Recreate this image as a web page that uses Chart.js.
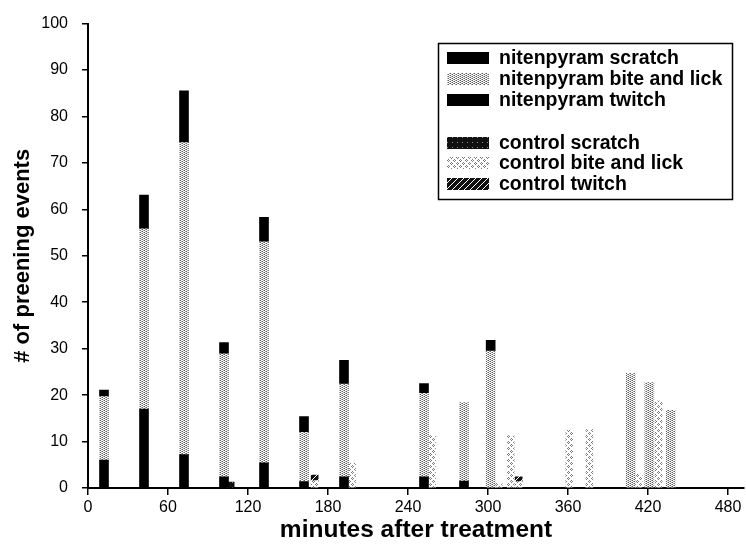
<!DOCTYPE html>
<html>
<head>
<meta charset="utf-8">
<script src="https://cdn.jsdelivr.net/npm/chart.js@4/dist/chart.umd.min.js"></script>
<style>
html,body{margin:0;padding:0;background:#fff;}
canvas{display:block;}
</style>
</head>
<body>
<canvas id="c" width="746" height="550"></canvas>
<script>
// ---- data ----
const xTickValues = [0, 60, 120, 180, 240, 300, 360, 420, 480];
const yTickValues = [0, 10, 20, 30, 40, 50, 60, 70, 80, 90, 100];

const nitenTimes   = [12, 42, 72, 102, 132, 162, 192, 252, 282, 302, 407, 421, 437];
const nitenScratch = [6.0, 17.0, 7.2, 2.4, 5.4, 1.4, 2.4, 2.4, 1.5, 0, 0, 0, 0];
const nitenBite    = [13.7, 38.8, 67.2, 26.5, 47.6, 10.6, 20.0, 18.0, 16.9, 29.5, 24.7, 22.7, 16.7];
const nitenTwitch  = [1.4, 7.3, 11.1, 2.4, 5.3, 3.4, 5.1, 2.1, 0, 2.3, 0, 0, 0];

const controlTimes   = [107, 170, 198, 258, 308, 317, 323, 361, 376, 413, 428];
const controlScratch = [1.3, 0, 0, 0, 0, 0, 0, 0, 0, 0, 0];
const controlBite    = [0, 1.6, 5.3, 11.3, 1.0, 11.3, 1.4, 12.4, 12.6, 3.0, 18.7];
const controlTwitch  = [0, 1.2, 0, 0, 0, 0, 1.0, 0, 0, 0, 0];

const seriesLabels = [
  'nitenpyram scratch', 'nitenpyram bite and lick', 'nitenpyram twitch',
  'control scratch', 'control bite and lick', 'control twitch'
];

// ---- patterns ----
const canvas = document.getElementById('c');
const mainCtx = canvas.getContext('2d');
function makePattern(w, h, draw) {
  const t = document.createElement('canvas');
  t.width = w; t.height = h;
  const g = t.getContext('2d');
  draw(g);
  return mainCtx.createPattern(t, 'repeat');
}
const nitenBitePattern = makePattern(4, 4, g => {
  g.fillStyle = '#ffffff'; g.fillRect(0, 0, 4, 4);
  g.fillStyle = '#5e5e5e';
  [[0,0],[2,1],[0,2],[2,3]].forEach(p => g.fillRect(p[0], p[1], 1, 1));
  g.fillStyle = '#aaaaaa';
  [[1,1],[3,0],[3,2],[1,3]].forEach(p => g.fillRect(p[0], p[1], 1, 1));
});
const controlBitePattern = makePattern(6, 6, g => {
  g.fillStyle = '#ffffff'; g.fillRect(0, 0, 6, 6);
  g.fillStyle = '#7a7a7a';
  [[1,0],[0,1],[2,1],[1,2],[4,3],[3,4],[5,4],[4,5]].forEach(p => g.fillRect(p[0], p[1], 1, 1));
});
const controlTwitchPattern = makePattern(6, 6, g => {
  g.fillStyle = '#111'; g.fillRect(0, 0, 6, 6);
  g.strokeStyle = '#ffffff'; g.lineWidth = 1;
  g.beginPath();
  g.moveTo(-1, 7); g.lineTo(7, -1);
  g.moveTo(-4, 4); g.lineTo(4, -4);
  g.moveTo(2, 10); g.lineTo(10, 2);
  g.stroke();
});
const controlScratchPattern = makePattern(5, 5, g => {
  g.fillStyle = '#111'; g.fillRect(0, 0, 5, 5);
  g.fillStyle = '#888'; g.fillRect(2, 2, 1, 1);
});

function pts(times, vals) {
  const out = [];
  times.forEach((t, i) => { if (vals[i] > 0) out.push({ x: t, y: vals[i] }); });
  return out;
}

const FONT = "'Liberation Sans', Arial, sans-serif";

const datasets = [
  { label: seriesLabels[0], data: pts(nitenTimes, nitenScratch), backgroundColor: '#000', stack: 'n', barThickness: 9 },
  { label: seriesLabels[1], data: pts(nitenTimes, nitenBite), backgroundColor: nitenBitePattern, stack: 'n', barThickness: 9 },
  { label: seriesLabels[2], data: pts(nitenTimes, nitenTwitch), backgroundColor: '#000', stack: 'n', barThickness: 9 },
  { label: seriesLabels[3], data: pts(controlTimes, controlScratch), backgroundColor: controlScratchPattern, stack: 'c', barThickness: 7 },
  { label: seriesLabels[4], data: pts(controlTimes, controlBite), backgroundColor: controlBitePattern, stack: 'c', barThickness: 7 },
  { label: seriesLabels[5], data: pts(controlTimes, controlTwitch), backgroundColor: controlTwitchPattern, stack: 'c', barThickness: 7 }
];
datasets.forEach(d => { d.grouped = false; d.borderWidth = 0; });

// legend drawn inside the plot, boxed
const boxLegend = {
  id: 'boxLegend',
  afterDraw(chart) {
    const ctx = chart.ctx;
    ctx.save();
    ctx.strokeStyle = '#000';
    ctx.lineWidth = 1.5;
    ctx.strokeRect(438.5, 43.5, 294, 156);
    const rows = [58, 79, 100, 143, 163, 184];
    ctx.font = "bold 19.5px " + FONT;
    ctx.textBaseline = 'middle';
    ctx.textAlign = 'left';
    chart.data.datasets.forEach((d, i) => {
      ctx.fillStyle = d.backgroundColor;
      ctx.fillRect(447, rows[i] - 6, 42, 12);
      ctx.fillStyle = '#000';
      ctx.fillText(d.label, 499, rows[i] + 1);
    });
    ctx.restore();
  }
};

new Chart(canvas, {
  type: 'bar',
  data: { datasets },
  options: {
    responsive: false,
    animation: false,
    devicePixelRatio: 1,
    layout: { padding: { top: 20, right: 2, left: 0, bottom: 0 } },
    plugins: { legend: { display: false }, tooltip: { enabled: false } },
    scales: {
      x: {
        type: 'linear',
        min: 0,
        max: 492,
        offset: false,
        afterBuildTicks: axis => { axis.ticks = xTickValues.map(v => ({ value: v })); },
        afterFit: s => { s.height = 62; },
        grid: { display: true, drawOnChartArea: false, drawTicks: true, tickLength: 7, color: '#000', lineWidth: 1.5, offset: false },
        border: { display: true, color: '#000', width: 2 },
        ticks: { color: '#000', font: { family: FONT, size: 16 }, padding: 3, maxRotation: 0 },
        title: { display: true, text: 'minutes after treatment', color: '#000', font: { family: FONT, size: 24.5, weight: 'bold' }, padding: { top: 0, bottom: 5 } }
      },
      y: {
        min: 0,
        max: 100,
        stacked: true,
        afterBuildTicks: axis => { axis.ticks = yTickValues.map(v => ({ value: v })); },
        afterFit: s => { s.width = 88; },
        grid: { display: true, drawOnChartArea: false, drawTicks: true, tickLength: 6, color: '#000', lineWidth: 1.5 },
        border: { display: true, color: '#000', width: 2 },
        ticks: { color: '#000', font: { family: FONT, size: 16 }, padding: 14 },
        title: { display: true, text: '# of preening events', color: '#000', font: { family: FONT, size: 22, weight: 'bold' }, padding: { top: 10, bottom: 0 } }
      }
    }
  },
  plugins: [boxLegend]
});
</script>
</body>
</html>
